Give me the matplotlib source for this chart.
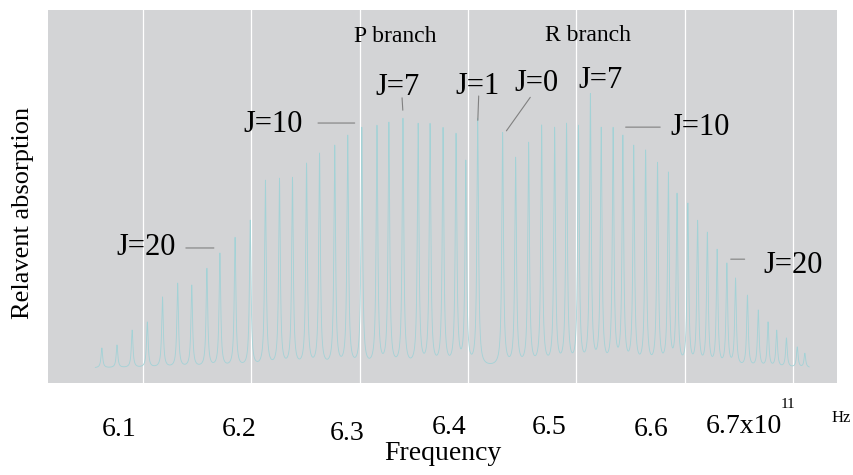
import numpy as np
import matplotlib
matplotlib.use("Agg")
import matplotlib.pyplot as plt
import matplotlib.transforms as mtransforms

plt.rcParams["font.family"] = ["Liberation Serif", "DejaVu Serif"]

# --------------------------
# data
# --------------------------
# P branch, J = 1..28 : line position (x10^11 Hz) and peak height (relative)
p_freq = [6.409, 6.398, 6.389, 6.377, 6.365, 6.354, 6.340, 6.327, 6.316, 6.302,
          6.289, 6.277, 6.263, 6.251, 6.238, 6.226, 6.213, 6.199, 6.185, 6.171,
          6.159, 6.145, 6.132, 6.118, 6.104, 6.090, 6.076, 6.062]
p_peak = [0.710, 0.598, 0.670, 0.686, 0.697, 0.697, 0.710, 0.700, 0.692, 0.686,
          0.665, 0.638, 0.617, 0.590, 0.552, 0.550, 0.544, 0.437, 0.391, 0.349,
          0.308, 0.263, 0.268, 0.231, 0.164, 0.142, 0.102, 0.094]

# R branch, J = 0..28
r_freq = [6.432, 6.444, 6.456, 6.468, 6.480, 6.491, 6.502, 6.513, 6.523, 6.534,
          6.543, 6.553, 6.564, 6.575, 6.585, 6.593, 6.603, 6.612, 6.621, 6.630,
          6.639, 6.647, 6.658, 6.668, 6.677, 6.685, 6.694, 6.704, 6.711]
r_peak = [0.673, 0.606, 0.646, 0.692, 0.686, 0.697, 0.692, 0.777, 0.686, 0.686,
          0.665, 0.638, 0.625, 0.592, 0.566, 0.509, 0.483, 0.437, 0.405, 0.359,
          0.322, 0.282, 0.236, 0.196, 0.164, 0.142, 0.121, 0.097, 0.080]

baseline = 0.04
tick_vals = [6.1, 6.2, 6.3, 6.4, 6.5, 6.6]
tick_labels = ["6.1", "6.2", "6.3", "6.4", "6.5", "6.6"]
# the hand-drawn original does not centre its labels on the grid
label_shift = [(-24, -1), (-12, -1), (-13, -5), (-19, 1), (-27, 1), (-33, -1)]  # pixels


def lorentz(x, x0, hw):
    return 1.0 / (1.0 + ((x - x0) / hw) ** 2)


def spectrum(freqs, peaks, base, hw=0.0009):
    """Sum of Lorentzian lines whose maxima land on the read-off peak heights."""
    f = np.asarray(freqs)
    target = np.asarray(peaks) - base
    A = lorentz(f[:, None], f[None, :], hw)
    amp = np.linalg.solve(A, target)
    x = np.linspace(f.min() - 0.006, f.max() + 0.004, 9000)
    y = base + (amp[None, :] * lorentz(x[:, None], f[None, :], hw)).sum(axis=1)
    return x, y


freqs = p_freq + r_freq
peaks = p_peak + r_peak
x, y = spectrum(freqs, peaks, baseline)

fig = plt.figure(figsize=(8.54, 4.75), dpi=100)
ax = fig.add_axes([0.0562, 0.1937, 0.9238, 0.7852])
ax.set_facecolor("#d3d4d6")
for s in ax.spines.values():
    s.set_visible(False)

for t in tick_vals + [6.7]:
    ax.axvline(t, color="white", lw=0.9, zorder=1)

ax.plot(x, y, color="#a3d2d6", lw=0.6, zorder=2)

ax.set_xlim(6.0123, 6.7406)
ax.set_ylim(0, 1)
ax.set_yticks([])
ax.set_xticks(tick_vals)
ax.set_xticklabels(tick_labels, fontsize=20)
ax.tick_params(axis="x", length=0, pad=24)
for lab, (dx, dy) in zip(ax.get_xticklabels(), label_shift):
    off = mtransforms.ScaledTranslation(dx / 100, dy / 100, fig.dpi_scale_trans)
    lab.set_transform(lab.get_transform() + off)

xtr = ax.get_xaxis_transform()
ax.text(6.690, -0.083, "6.7x10", ha="right", va="top", fontsize=20, transform=xtr)
ax.text(6.695, -0.058, "11", ha="center", va="center", fontsize=11, transform=xtr)
ax.text(6.745, -0.094, "Hz", ha="center", va="center", fontsize=12, transform=xtr)

ax.set_xlabel("Frequency", fontsize=20)
ax.xaxis.set_label_coords(0.5, -0.155)
ax.set_ylabel("Relavent absorption", fontsize=19)
ax.yaxis.set_label_coords(-0.0177, 0.456)

# --------------------------
# annotations
# --------------------------
lc = dict(arrowstyle="-", color="#808080", lw=0.8)
jfs = 22

ax.text(6.333, 0.930, "P branch", ha="center", va="center", fontsize=17)
ax.text(6.511, 0.933, "R branch", ha="center", va="center", fontsize=17)

ax.text(6.103, 0.362, "J=20", ha="center", va="center", fontsize=jfs)
ax.annotate("", xy=(6.168, 0.362), xytext=(6.137, 0.362), arrowprops=lc)

ax.text(6.220, 0.694, "J=10", ha="center", va="center", fontsize=jfs)
ax.annotate("", xy=(6.298, 0.697), xytext=(6.259, 0.697), arrowprops=lc)

ax.text(6.335, 0.791, "J=7", ha="center", va="center", fontsize=jfs)
ax.annotate("", xy=(6.340, 0.724), xytext=(6.339, 0.772), arrowprops=lc)

ax.text(6.409, 0.796, "J=1", ha="center", va="center", fontsize=jfs)
ax.annotate("", xy=(6.409, 0.697), xytext=(6.410, 0.777), arrowprops=lc)

ax.text(6.463, 0.804, "J=0", ha="center", va="center", fontsize=jfs)
ax.annotate("", xy=(6.434, 0.670), xytext=(6.459, 0.772), arrowprops=lc)

ax.text(6.522, 0.812, "J=7", ha="center", va="center", fontsize=jfs)

ax.text(6.614, 0.686, "J=10", ha="center", va="center", fontsize=jfs)
ax.annotate("", xy=(6.580, 0.686), xytext=(6.543, 0.686), arrowprops=lc)

ax.text(6.700, 0.314, "J=20", ha="center", va="center", fontsize=jfs)
ax.annotate("", xy=(6.658, 0.332), xytext=(6.640, 0.332), arrowprops=lc)

fig.savefig("out.png", dpi=100)
